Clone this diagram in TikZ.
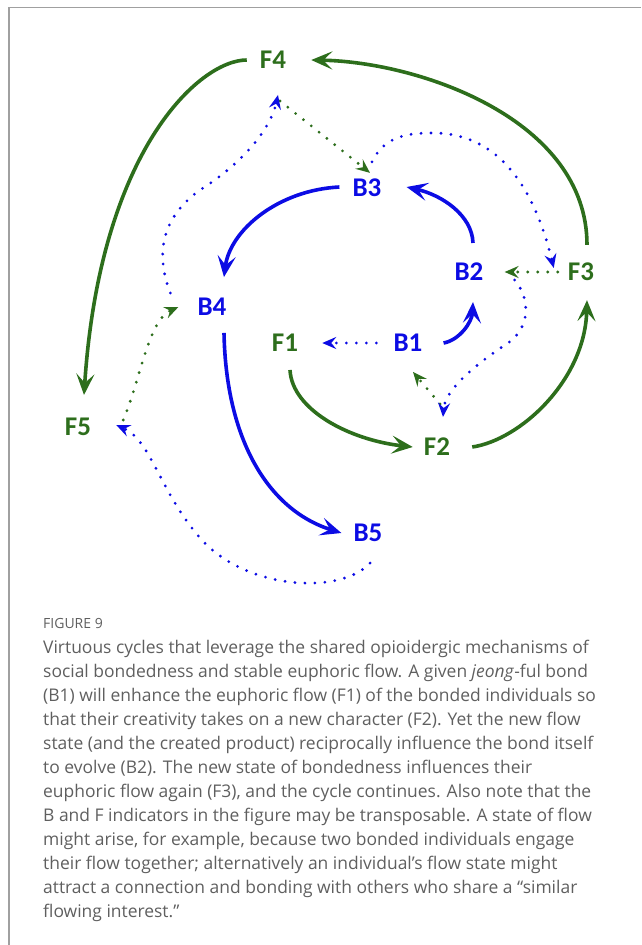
\documentclass[tikz,border=0pt]{standalone}
\usepackage{fontspec}
\setmainfont{Open Sans}
\newfontfamily\labelfont{Carlito}
\usetikzlibrary{arrows.meta, positioning, calc}

\definecolor{flowgreen}{RGB}{45,110,28}
\definecolor{bondblue}{RGB}{12,12,228}
\definecolor{capgray}{RGB}{95,95,95}
\definecolor{framegray}{RGB}{160,160,160}

\begin{document}
\begin{tikzpicture}[
    x=1pt, y=-1pt,
    flow/.style={inner sep=0pt, text=flowgreen, font=\labelfont\bfseries\fontsize{27}{27}\selectfont},
    bond/.style={flow, text=bondblue},
    flowarrow/.style={-{Stealth[length=21pt, width=18pt, inset=9pt]}, line width=3.6pt, flowgreen},
    bondarrow/.style={flowarrow, bondblue},
    flowdots/.style={-{Stealth[length=14pt, width=12pt, inset=5pt]}, line width=3.1pt, line cap=round, dash pattern=on 0pt off 10pt, flowgreen},
    bonddots/.style={flowdots, bondblue}
]
    \useasboundingbox (0,0) rectangle (641,945);
    \draw[framegray, line width=1.3pt] (9,945) -- (9,7.5) -- (641,7.5);

    % flow states
    \node[flow] (F1) at (285,343) {F1};
    \node[flow] (F2) at (437,447) {F2};
    \node[flow] (F3) at (581,272) {F3};
    \node[flow] (F4) at (273,60) {F4};
    \node[flow] (F5) at (78,427) {F5};
    % bond states
    \node[bond] (B1) at (408,343) {B1};
    \node[bond] (B2) at (469,272) {B2};
    \node[bond] (B3) at (367,188) {B3};
    \node[bond] (B4) at (212,307) {B4};
    \node[bond] (B5) at (368,533) {B5};

    % main cycles
    \draw[flowarrow] ($(F1.south)+(5,18)$) .. controls +(2,40) and +(-63,-7) .. ($(F2.west)+(-11,0)$);
    \draw[flowarrow] ($(F2.east)+(22,0)$) .. controls +(48,-7) and +(-2,80) .. ($(F3.south)+(6,19)$);
    \draw[flowarrow] ($(F3.north)+(6,-18)$) .. controls +(0,-125) and +(109,2) .. ($(F4.east)+(25,0)$);
    \draw[flowarrow] ($(F4.west)+(-13,0)$) .. controls +(-47,0) and +(16,-245) .. ($(F5.north)+(6,-23)$);
    \draw[bondarrow] ($(B1.east)+(21,0)$) .. controls +(16,-3) and +(-1,20) .. ($(B2.south)+(4,21)$);
    \draw[bondarrow] ($(B2.north)+(4,-20)$) .. controls +(-1,-28) and +(35,8) .. ($(B3.east)+(25,-1)$);
    \draw[bondarrow] ($(B3.west)+(-13,-1)$) .. controls +(-61,3) and +(6,-47) .. ($(B4.north)+(12,-21)$);
    \draw[bondarrow] ($(B4.south)+(12,17)$) .. controls +(2,107) and +(-73,-23) .. ($(B5.west)+(-12,0)$);

    % cross influences
    \draw[bonddots] ($(B1.west)+(-17,0)$) -- ($(F1.east)+(24,0)$);
    \draw[flowdots] ($(F2.north)+(3,-34)$) -- ($(B1.south)+(5,20)$);
    \draw[bonddots] ($(B2.east)+(31,8)$) .. controls +(17,20) and +(25,-15) .. (505,345)
        .. controls +(-30,20) and +(2,-27) .. ($(F2.north)+(6,-21)$);
    \draw[flowdots] ($(F3.west)+(-10,0)$) -- ($(B2.east)+(21,0)$);
    \draw[bonddots] ($(B3.north)+(5,-17)$) .. controls +(13,-27) and +(-23,0) .. (433,133)
        .. controls +(67,0) and +(-19,-78) .. ($(F3.west)+(-14,-4)$);
    \draw[flowdots] ($(F4.south)+(7,32)$) -- ($(B3.north)+(3,-6)$);
    \draw[bonddots] ($(B4.west)+(-27,-14)$) .. controls +(-17,-43) and +(-35,25) .. (200,190)
        .. controls +(40,-25) and +(-8,36) .. ($(F4.south)+(5,26)$);
    \draw[flowdots] ($(F5.east)+(32,-7)$) .. controls +(17,-40) and +(-30,13) .. ($(B4.west)+(-19,0)$);
    \draw[bonddots] ($(B5.south)+(2,21)$) .. controls +(-30,33) and +(44,57) .. (196,533)
        .. controls +(-36,-43) and +(34,15) .. ($(F5.east)+(25,-2)$);

    % caption
    \node[anchor=base west, inner sep=0pt, text=capgray, font=\fontsize{14}{16}\selectfont] (fig) at (43,628) {FIGURE 9};
    \node[anchor=north west, inner sep=0pt, align=left, text=capgray, font=\fontsize{17.45}{24}\selectfont] (caption) at (43,640) {Virtuous cycles that leverage the shared opioidergic mechanisms of\\
social bondedness and stable euphoric flow. A given \textit{jeong}-ful bond\\
(B1) will enhance the euphoric flow (F1) of the bonded individuals so\\
that their creativity takes on a new character (F2). Yet the new flow\\
state (and the created product) reciprocally influence the bond itself\\
to evolve (B2). The new state of bondedness influences their\\
euphoric flow again (F3), and the cycle continues. Also note that the\\
B and F indicators in the figure may be transposable. A state of flow\\
might arise, for example, because two bonded individuals engage\\
their flow together; alternatively an individual’s flow state might\\
attract a connection and bonding with others who share a “similar\\
flowing interest.”};
\end{tikzpicture}
\end{document}
